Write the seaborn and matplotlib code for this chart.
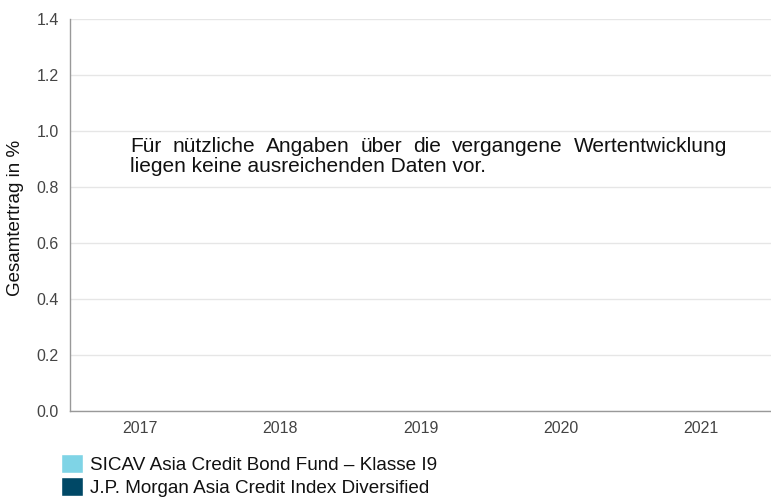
import matplotlib

matplotlib.use("Agg")

import matplotlib.pyplot as plt
import numpy as np
import pandas as pd
import seaborn as sns
from matplotlib.patches import Patch

YEARS = ["2017", "2018", "2019", "2020", "2021"]
FUND = "SICAV Asia Credit Bond Fund – Klasse I9"
INDEX = "J.P. Morgan Asia Credit Index Diversified"
# no performance data available for any year
FUND_VALUES = [np.nan, np.nan, np.nan, np.nan, np.nan]
INDEX_VALUES = [np.nan, np.nan, np.nan, np.nan, np.nan]
Y_TICKS = [0.0, 0.2, 0.4, 0.6, 0.8, 1.0, 1.2, 1.4]

FUND_COLOR = "#7fd4e6"
INDEX_COLOR = "#004866"
NOTE_LINES = [
    "Für nützliche Angaben über die vergangene Wertentwicklung",
    "liegen keine ausreichenden Daten vor.",
]

df = pd.DataFrame(
    {
        "year": YEARS * 2,
        "series": [FUND] * len(YEARS) + [INDEX] * len(YEARS),
        "value": FUND_VALUES + INDEX_VALUES,
    }
)


def justified_text(fig, lines, x0, x1, y_top, line_h, **kw):
    # last line left aligned, the others spread to full width
    renderer = fig.canvas.get_renderer()
    width = fig.bbox.width
    height = fig.bbox.height
    for i, line in enumerate(lines):
        y = 1 - (y_top + i * line_h) / height
        if i == len(lines) - 1:
            fig.text(x0 / width, y, line, va="center", ha="left", **kw)
            continue
        words = line.split()
        arts = [fig.text(0, y, w, va="center", ha="left", **kw) for w in words]
        widths = [a.get_window_extent(renderer).width for a in arts]
        gap = (x1 - x0 - sum(widths)) / (len(words) - 1)
        x = x0
        for a, w in zip(arts, widths):
            a.set_x(x / width)
            x += w + gap


sns.set_theme(style="white")
plt.rcParams["font.family"] = ["Liberation Sans", "DejaVu Sans"]

fig = plt.figure(figsize=(7.71, 5.0), dpi=100)
ax = fig.add_axes([70 / 771, 89 / 500, 701 / 771, 392 / 500])

plot_df = df.dropna(subset=["value"])
if not plot_df.empty:
    sns.barplot(
        data=plot_df, x="year", y="value", hue="series", order=YEARS,
        hue_order=[FUND, INDEX], palette=[FUND_COLOR, INDEX_COLOR], ax=ax, legend=False,
    )

ax.set_xlim(-0.5, len(YEARS) - 0.5)
ax.set_xticks(range(len(YEARS)))
ax.set_xticklabels(YEARS)
ax.set_ylim(0, 1.4)
ax.set_yticks(Y_TICKS)
ax.set_yticklabels([f"{v:.1f}" for v in Y_TICKS])
ax.tick_params(axis="both", length=0, labelsize=11.5, labelcolor="#444444")
ax.tick_params(axis="x", pad=7)
ax.tick_params(axis="y", pad=8)
ax.yaxis.grid(True, color="#e6e6e6", linewidth=1)
ax.set_axisbelow(True)
for side in ["top", "right"]:
    ax.spines[side].set_visible(False)
for side in ["left", "bottom"]:
    ax.spines[side].set_color("#999999")
    ax.spines[side].set_linewidth(1)
ax.set_xlabel("")
ax.set_ylabel("Gesamtertrag in %", fontsize=13.5, color="#111111")
ax.yaxis.set_label_coords((24 - 70) / 701, (411 - 218) / 392)

fig.canvas.draw()
justified_text(fig, NOTE_LINES, 130, 727, 146, 20, fontsize=15, color="#111111")

handles = [Patch(facecolor=FUND_COLOR, label=FUND), Patch(facecolor=INDEX_COLOR, label=INDEX)]
fig.legend(
    handles=handles, loc="upper left", bbox_to_anchor=(57 / 771, 1 - 450 / 500),
    frameon=False, fontsize=13.6, handlelength=1.2, handleheight=1.15,
    handletextpad=0.35, labelspacing=0.2, borderaxespad=0, borderpad=0.2,
    labelcolor="#111111",
)

fig.savefig("out.png", dpi=100, facecolor="white")
